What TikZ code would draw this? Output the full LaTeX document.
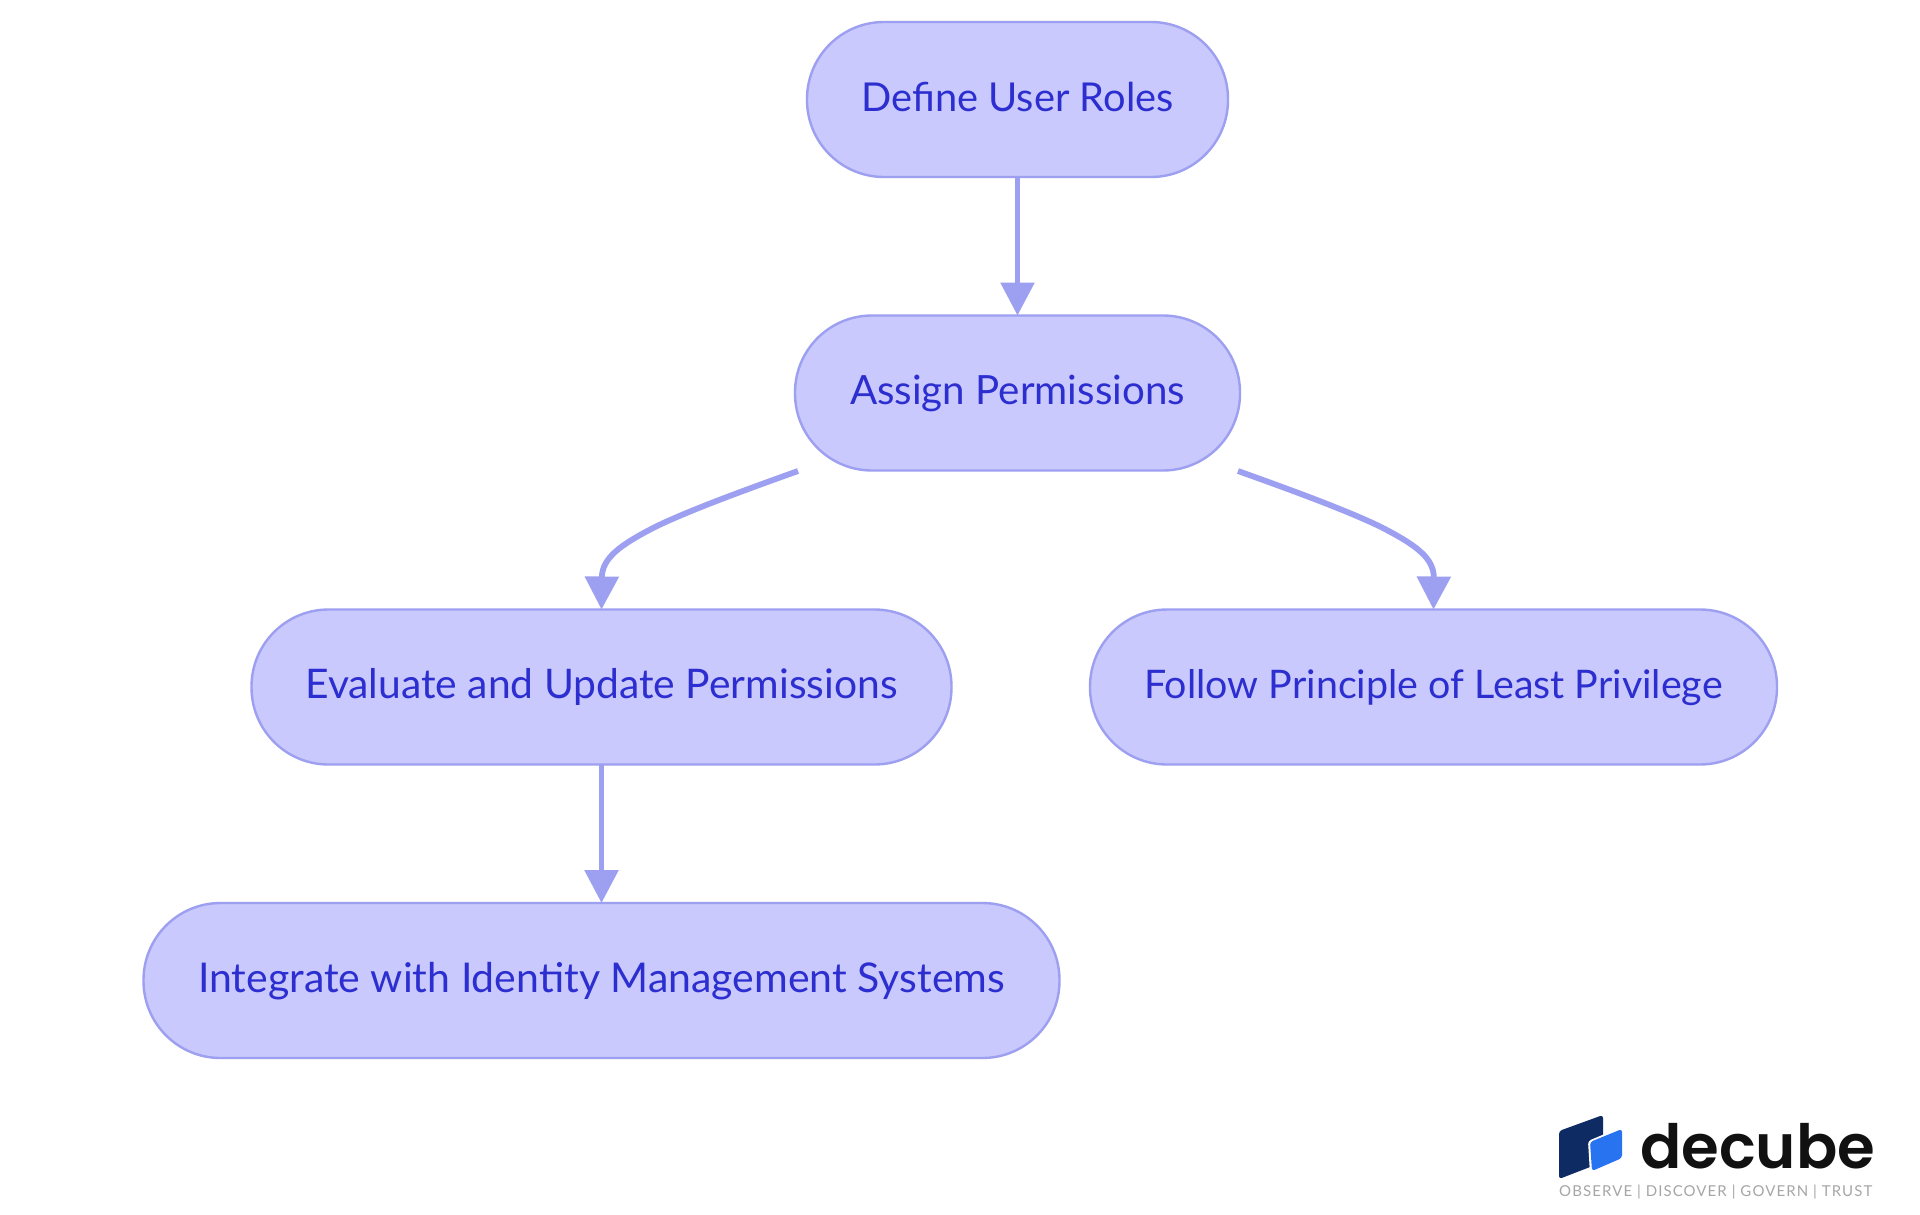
\documentclass[tikz,border=0pt]{standalone}
\usepackage{fontspec}
\setmainfont{Lato}
\newfontfamily\logofont{Poppins SemiBold}
\newfontfamily\tagfont{Lato}[LetterSpace=7.2]
\usetikzlibrary{arrows.meta}
\definecolor{boxfill}{HTML}{C9C9FD}
\definecolor{boxline}{HTML}{9D9FF0}
\definecolor{boxtext}{HTML}{2C2ED0}
\definecolor{logodark}{HTML}{0F2B63}
\definecolor{logoblue}{HTML}{2874F0}
\definecolor{logotext}{HTML}{111111}
\definecolor{taggray}{HTML}{A6A6A6}
\tikzset{
  flowbox/.style={draw=boxline,fill=boxfill,line width=2.4pt,rounded corners=77pt,outer sep=0pt,
    minimum height=155pt,inner sep=0pt,text=boxtext,text height=30pt,text depth=7pt},
  flowsize/.style={font=\fontsize{#1}{48}\selectfont},
  flowline/.style={draw=boxline,line width=5.8pt,
    -{Triangle[length=33pt,width=33pt,color=boxline]}},
}
\begin{document}
\begin{tikzpicture}[x=1pt,y=-1pt]
\useasboundingbox (0,0) rectangle (1920,1215);
\fill[white] (0,0) rectangle (1920,1215);
\node[flowbox,flowsize=39.8,minimum width=421pt] (roles) at (1017.5,99.5) {Define User Roles};
\node[flowbox,flowsize=40.3,minimum width=445pt] (perm) at (1017.5,393) {Assign Permissions};
\node[flowbox,flowsize=40.8,minimum width=700pt] (eval) at (601.5,687) {Evaluate and Update Permissions};
\node[flowbox,flowsize=39.4,minimum width=687pt] (least) at (1433.5,687) {Follow Principle of Least Privilege};
\node[flowbox,flowsize=41,minimum width=916pt] (integ) at (601.5,980.5) {Integrate with Identity Management Systems};
\coordinate (startl) at (798,471);
\coordinate (startr) at (1238,471);
\draw[flowline] (roles.south) -- (perm.north);
\draw[flowline] (eval.south) -- (integ.north);
\draw[flowline] (startl) .. controls (745,490) and (690,510) .. (655,527)
   .. controls (620,545) and (602,558) .. (eval.north);
\draw[flowline] (startr) .. controls (1291,490) and (1346,510) .. (1381,527)
   .. controls (1416,545) and (1434,558) .. (least.north);
% logo
\fill[logodark,rounded corners=3pt] (1559,1131) -- (1603,1115) -- (1603,1162) -- (1559,1179) -- cycle;
\fill[white,rounded corners=3pt] (1588,1141) -- (1624,1126) -- (1624,1160) -- (1590,1174) -- cycle;
\fill[logoblue,rounded corners=3pt] (1590,1142) -- (1622,1129) -- (1622,1158) -- (1592,1171) -- cycle;
\node[anchor=base west,inner sep=0pt,text=logotext,text depth=0pt,font=\logofont\fontsize{61}{70}\selectfont] (brand) at (1640,1168) {decube};
\node[anchor=base west,inner sep=0pt,text=taggray,text height=11pt,text depth=0pt,font=\tagfont\fontsize{15}{18}\selectfont] (tag) at (1559,1196.5) {OBSERVE | DISCOVER | GOVERN | TRUST};
\end{tikzpicture}
\end{document}
